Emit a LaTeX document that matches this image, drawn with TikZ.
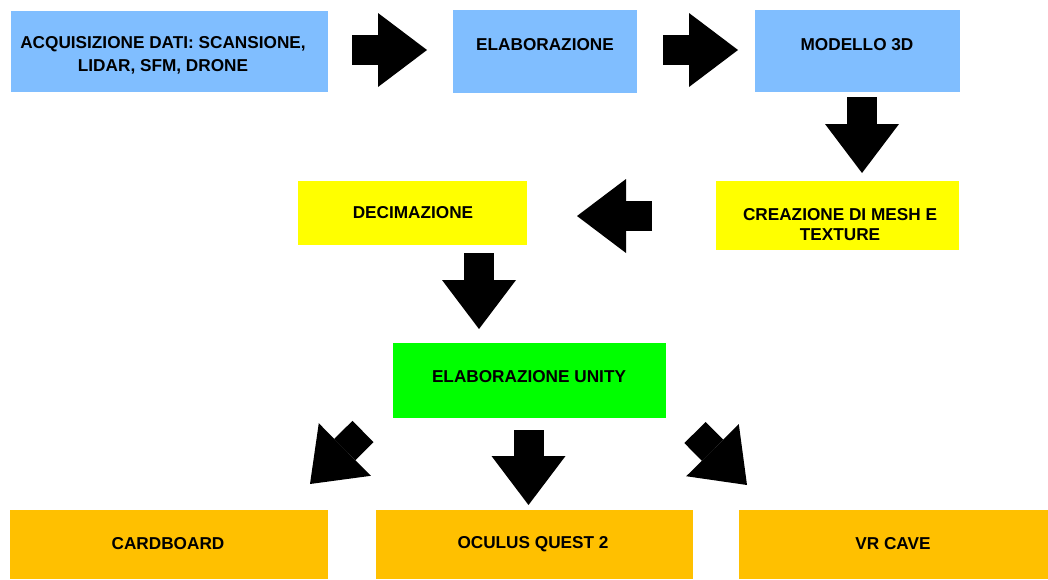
\documentclass[tikz,border=0pt]{standalone}
\usepackage{fontspec}
\setmainfont{Liberation Sans}
\usetikzlibrary{arrows.meta,fit}
\definecolor{boxblue}{RGB}{128,190,255}
\definecolor{boxyellow}{RGB}{255,255,0}
\definecolor{boxgreen}{RGB}{0,255,0}
\definecolor{boxorange}{RGB}{255,192,0}
\tikzset{
  box/.style={draw=none, inner sep=0pt, outer sep=0pt},
  lbl/.style={inner sep=0pt, align=center, font=\fontsize{12.9}{15}\selectfont\bfseries},
  blockarr/.style={line width=22.5pt, black,
    -{Triangle[length=36.75pt, width=55.5pt, line width=0pt]}}
}
\begin{document}
\begin{tikzpicture}[x=0.75pt, y=-0.75pt]
\useasboundingbox (0,0) rectangle (1048,579);
% boxes
\node[box, fill=boxblue, fit={(11,11) (328,92)}] (b1) {};
\node[box, fill=boxblue, fit={(453,10) (637,93)}] (b2) {};
\node[box, fill=boxblue, fit={(755,10) (960,92)}] (b3) {};
\node[box, fill=boxyellow, fit={(716,181) (959,250)}] (b4) {};
\node[box, fill=boxyellow, fit={(298,181) (527,245)}] (b5) {};
\node[box, fill=boxgreen, fit={(393,343) (666,418)}] (b6) {};
\node[box, fill=boxorange, fit={(10,510) (328,579)}] (b7) {};
\node[box, fill=boxorange, fit={(376,510) (693,579)}] (b8) {};
\node[box, fill=boxorange, fit={(739,510) (1048,579)}] (b9) {};
% texts
\node[lbl, font=\fontsize{12.9}{17}\selectfont\bfseries] (t1) at (163,55) {ACQUISIZIONE DATI: SCANSIONE,\\LIDAR, SFM, DRONE};
\node[lbl] (t2) at (545,45) {ELABORAZIONE};
\node[lbl] (t3) at (857,45) {MODELLO 3D};
\node[lbl] (t4) at (840,225) {CREAZIONE DI MESH E\\TEXTURE};
\node[lbl] (t5) at (413,213) {DECIMAZIONE};
\node[lbl] (t6) at (529,377) {ELABORAZIONE UNITY};
\node[lbl] (t7) at (168,544) {CARDBOARD};
\node[lbl] (t8) at (533,544) {OCULUS QUEST 2};
\node[lbl] (t9) at (893,544) {VR CAVE};
% arrow end points
\coordinate (a1s) at (352,50);    \coordinate (a1e) at (427,50);
\coordinate (a2s) at (663,50);    \coordinate (a2e) at (738,50);
\coordinate (a3s) at (862,97);    \coordinate (a3e) at (862,173);
\coordinate (a4s) at (652,216);   \coordinate (a4e) at (577,216);
\coordinate (a5s) at (479,253);   \coordinate (a5e) at (479,329);
\coordinate (a6s) at (363,431.5); \coordinate (a6e) at (310,484);
\coordinate (a7s) at (528.5,430); \coordinate (a7e) at (528.5,505);
\coordinate (a8s) at (695,432.5); \coordinate (a8e) at (747,485);
% block arrows
\draw[blockarr] (a1s) -- (a1e);
\draw[blockarr] (a2s) -- (a2e);
\draw[blockarr] (a3s) -- (a3e);
\draw[blockarr] (a4s) -- (a4e);
\draw[blockarr] (a5s) -- (a5e);
\draw[blockarr] (a6s) -- (a6e);
\draw[blockarr] (a7s) -- (a7e);
\draw[blockarr] (a8s) -- (a8e);
\end{tikzpicture}
\end{document}
